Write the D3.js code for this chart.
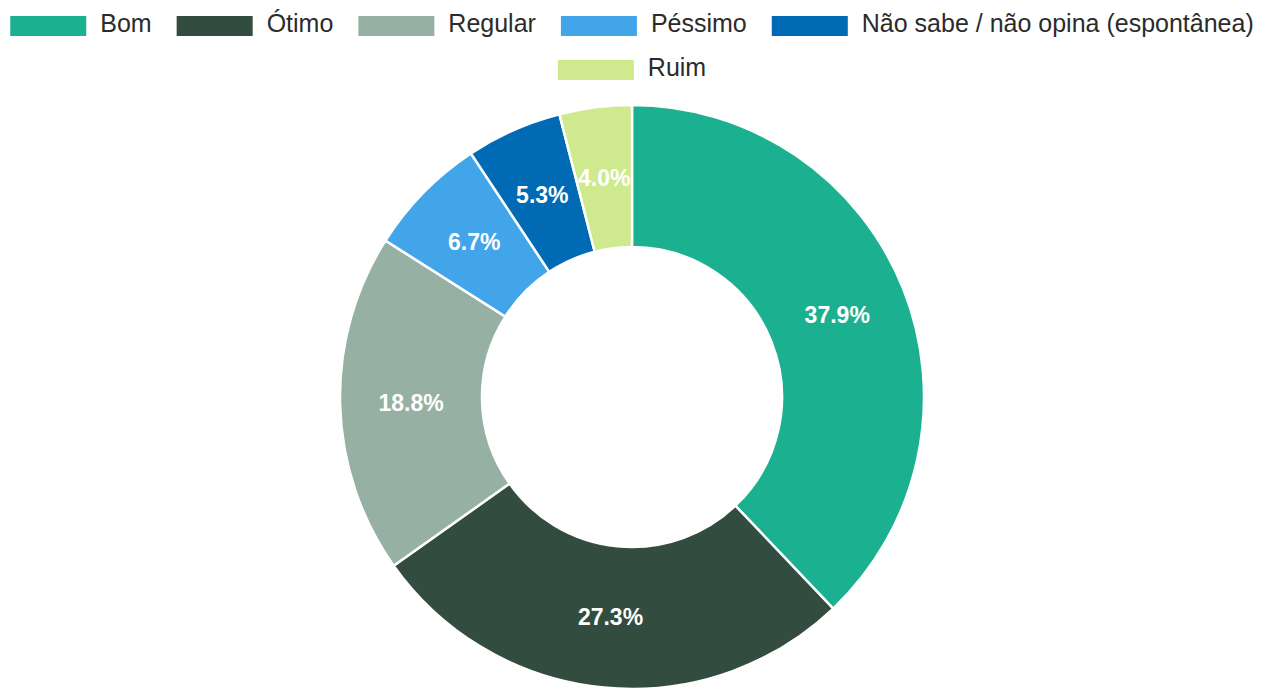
<!DOCTYPE html>
<html>
<head>
<meta charset="utf-8">
<script src="https://cdn.jsdelivr.net/npm/d3@7"></script>
<style>
  body { margin: 0; background: #fff; }
  svg { display: block; }
</style>
</head>
<body>
<div id="chart"></div>
<script>
// categories and values, in drawing order (clockwise from top)
const categories = ["Bom", "Ótimo", "Regular", "Péssimo", "Não sabe / não opina (espontânea)", "Ruim"];
const values = [37.9, 27.3, 18.8, 6.7, 5.3, 4.0];
const colors = ["#1bb190", "#324c40", "#96b0a3", "#42a5ea", "#006bb4", "#cfe98f"];

const w = 1266, h = 689;
const cx = 632, cy = 397;
const outerR = 292, innerR = 150;

const svg = d3.select("#chart").append("svg")
  .attr("width", w)
  .attr("height", h);

const data = categories.map((c, i) => ({ name: c, value: values[i], color: colors[i] }));

// pie + arc
const pie = d3.pie().value(d => d.value).sort(null);
const arc = d3.arc().innerRadius(innerR).outerRadius(outerR);
const labelArc = d3.arc().innerRadius((innerR + outerR) / 2).outerRadius((innerR + outerR) / 2);

const g = svg.append("g").attr("transform", `translate(${cx},${cy})`);

const arcs = pie(data);

g.selectAll("path")
  .data(arcs)
  .enter().append("path")
  .attr("d", arc)
  .attr("fill", d => d.data.color)
  .attr("stroke", "#ffffff")
  .attr("stroke-width", 2.5);

// percent labels at slice centroids
g.selectAll(".lbl")
  .data(arcs)
  .enter().append("text")
  .attr("class", "lbl")
  .attr("transform", d => `translate(${labelArc.centroid(d)})`)
  .attr("text-anchor", "middle")
  .attr("dy", "0.36em")
  .attr("fill", "#ffffff")
  .attr("font-family", "Liberation Sans, Arial, sans-serif")
  .attr("font-weight", "bold")
  .attr("font-size", 23)
  .text(d => d.data.value.toFixed(1) + "%");

// legend, wrapped in centred rows
const boxW = 76, boxH = 20, textGap = 14, itemGap = 25, rowH = 44, maxW = w - 16;
const legend = svg.append("g");

const items = data.map(d => {
  const it = legend.append("g");
  it.append("rect")
    .attr("width", boxW).attr("height", boxH)
    .attr("fill", d.color);
  const t = it.append("text")
    .attr("x", boxW + textGap)
    .attr("y", 16)
    .attr("fill", "#2b2b2b")
    .attr("font-family", "Liberation Sans, Arial, sans-serif")
    .attr("font-size", 25)
    .text(d.name);
  return { node: it, width: boxW + textGap + t.node().getComputedTextLength() };
});

let rows = [[]], rowW = 0;
items.forEach(it => {
  const add = (rows[rows.length - 1].length ? itemGap : 0) + it.width;
  if (rowW + add > maxW && rows[rows.length - 1].length) {
    rows.push([it]);
    rowW = it.width;
  } else {
    rows[rows.length - 1].push(it);
    rowW += add;
  }
});

rows.forEach((row, r) => {
  const total = d3.sum(row, d => d.width) + itemGap * (row.length - 1);
  let x = cx - total / 2;
  row.forEach(it => {
    it.node.attr("transform", `translate(${x},${16 + r * rowH})`);
    x += it.width + itemGap;
  });
});
</script>
</body>
</html>
